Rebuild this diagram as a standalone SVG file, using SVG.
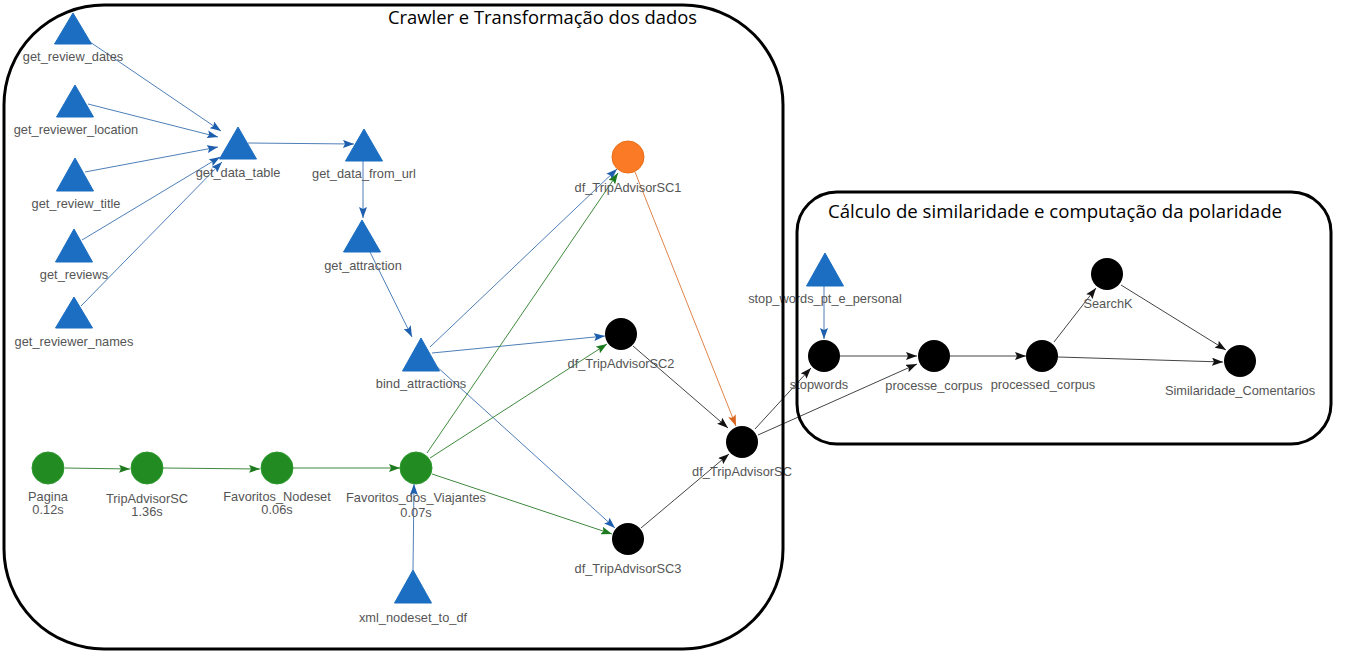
<svg xmlns="http://www.w3.org/2000/svg" width="1355" height="666" viewBox="0 0 1355 666">
<style>
.lbl{font-family:"Liberation Sans",Arial,sans-serif;font-size:12.8px;fill:#555;text-anchor:middle}
.ttl{font-family:"Open Sans","Liberation Sans",Arial,sans-serif;font-size:18px;fill:#000}
.tri{fill:#1b6ec2;stroke:#1b6ec2;stroke-width:1}
.grn{fill:#228b22;stroke:#2c9a2c;stroke-width:1}
.blk{fill:#000}
.org{fill:#fb7a25;stroke:#e86c14;stroke-width:1}
.eb{stroke:#4f7fb8;stroke-width:1;fill:none;marker-end:url(#ab)}
.eg{stroke:#3f8a3f;stroke-width:1;fill:none;marker-end:url(#ag)}
.ek{stroke:#444;stroke-width:1;fill:none;marker-end:url(#ak)}
.eo{stroke:#e0844c;stroke-width:1;fill:none;marker-end:url(#ao)}
.box{fill:none;stroke:#000;stroke-width:3}
</style>
<defs>
<marker id="ab" markerUnits="userSpaceOnUse" markerWidth="11" markerHeight="8" refX="11" refY="4" orient="auto"><path d="M0,0 L11,4 L0,8 L2,4 z" fill="#1d5fae"/></marker>
<marker id="ag" markerUnits="userSpaceOnUse" markerWidth="11" markerHeight="8" refX="11" refY="4" orient="auto"><path d="M0,0 L11,4 L0,8 L2,4 z" fill="#1e7a1e"/></marker>
<marker id="ak" markerUnits="userSpaceOnUse" markerWidth="11" markerHeight="8" refX="11" refY="4" orient="auto"><path d="M0,0 L11,4 L0,8 L2,4 z" fill="#111"/></marker>
<marker id="ao" markerUnits="userSpaceOnUse" markerWidth="11" markerHeight="8" refX="11" refY="4" orient="auto"><path d="M0,0 L11,4 L0,8 L2,4 z" fill="#d9651f"/></marker>
</defs>
<rect width="1355" height="666" fill="#fff"/>
<g id="connectors">
<line class="eb" x1="90" y1="42" x2="221" y2="131"/>
<line class="eb" x1="88" y1="104" x2="218" y2="137"/>
<line class="eb" x1="85" y1="172" x2="218" y2="147"/>
<line class="eb" x1="82" y1="240" x2="220" y2="157"/>
<line class="eb" x1="81" y1="306" x2="222" y2="162"/>
<line class="eb" x1="248" y1="143" x2="354" y2="144"/>
<line class="eb" x1="363" y1="160" x2="363" y2="218"/>
<line class="eb" x1="370" y1="252" x2="412" y2="337"/>
<line class="eb" x1="430" y1="347" x2="617" y2="169"/>
<line class="eb" x1="432" y1="353" x2="605" y2="336"/>
<line class="eb" x1="435" y1="365" x2="615" y2="528"/>
<line class="eb" x1="413" y1="570" x2="414" y2="484"/>
<line class="eb" x1="824" y1="286" x2="824" y2="339"/>
<line class="eg" x1="65" y1="468" x2="130" y2="469"/>
<line class="eg" x1="163" y1="468" x2="260" y2="469"/>
<line class="eg" x1="293" y1="468" x2="400" y2="468"/>
<line class="eg" x1="427" y1="453" x2="618" y2="173"/>
<line class="eg" x1="430" y1="458" x2="607" y2="344"/>
<line class="eg" x1="432" y1="474" x2="612" y2="534"/>
<line class="eo" x1="635" y1="172" x2="736" y2="426"/>
<line class="ek" x1="633" y1="346" x2="728" y2="428"/>
<line class="ek" x1="641" y1="528" x2="729" y2="454"/>
<line class="ek" x1="755" y1="429" x2="811" y2="368"/>
<line class="ek" x1="758" y1="435" x2="917" y2="364"/>
<line class="ek" x1="840" y1="356" x2="917" y2="356"/>
<line class="ek" x1="950" y1="356" x2="1026" y2="356"/>
<line class="ek" x1="1054" y1="342" x2="1096" y2="288"/>
<line class="ek" x1="1058" y1="357" x2="1223" y2="362"/>
<line class="ek" x1="1121" y1="285" x2="1226" y2="350"/>
</g>
<g id="get_review_dates"><polygon class="tri" points="54.5,44 73,13 91.5,44"/><text class="lbl" x="73" y="61">get_review_dates</text></g>
<g id="get_reviewer_location"><polygon class="tri" points="56.5,117 75,85 93.5,117"/><text class="lbl" x="76" y="134">get_reviewer_location</text></g>
<g id="get_review_title"><polygon class="tri" points="56.5,191 75,158 93.5,191"/><text class="lbl" x="76" y="208">get_review_title</text></g>
<g id="get_reviews"><polygon class="tri" points="55.5,262 74,229 92.5,262"/><text class="lbl" x="74" y="279">get_reviews</text></g>
<g id="get_reviewer_names"><polygon class="tri" points="55.5,328 74,297 92.5,328"/><text class="lbl" x="74" y="346">get_reviewer_names</text></g>
<g id="get_data_table"><polygon class="tri" points="219.5,159 238,127 256.5,159"/><text class="lbl" x="238" y="177">get_data_table</text></g>
<g id="get_data_from_url"><polygon class="tri" points="345.5,161 364,129 382.5,161"/><text class="lbl" x="364" y="178">get_data_from_url</text></g>
<g id="get_attraction"><polygon class="tri" points="343.5,252 362,220 380.5,252"/><text class="lbl" x="363" y="270">get_attraction</text></g>
<g id="bind_attractions"><polygon class="tri" points="402.5,371 421,338 439.5,371"/><text class="lbl" x="421" y="388">bind_attractions</text></g>
<g id="xml_nodeset_to_df"><polygon class="tri" points="394.5,603 413,570 431.5,603"/><text class="lbl" x="413" y="622">xml_nodeset_to_df</text></g>
<g id="stop_words_pt_e_personal"><polygon class="tri" points="806.5,286 825,253 843.5,286"/><text class="lbl" x="825" y="303">stop_words_pt_e_personal</text></g>
<g id="Pagina"><circle class="grn" cx="48" cy="468" r="16"/><text class="lbl" x="48" y="501">Pagina</text><text class="lbl" x="48" y="514">0.12s</text></g>
<g id="TripAdvisorSC"><circle class="grn" cx="147" cy="468" r="16"/><text class="lbl" x="147" y="503">TripAdvisorSC</text><text class="lbl" x="147" y="516">1.36s</text></g>
<g id="Favoritos_Nodeset"><circle class="grn" cx="277" cy="468" r="16"/><text class="lbl" x="277" y="501">Favoritos_Nodeset</text><text class="lbl" x="277" y="514">0.06s</text></g>
<g id="Favoritos_dos_Viajantes"><circle class="grn" cx="416" cy="468" r="16"/><text class="lbl" x="416" y="502">Favoritos_dos_Viajantes</text><text class="lbl" x="416" y="517">0.07s</text></g>
<g id="df_TripAdvisorSC1"><circle class="org" cx="628" cy="157" r="16"/><text class="lbl" x="628" y="192">df_TripAdvisorSC1</text></g>
<g id="df_TripAdvisorSC2"><circle class="blk" cx="621" cy="334" r="16"/><text class="lbl" x="621" y="368">df_TripAdvisorSC2</text></g>
<g id="df_TripAdvisorSC3"><circle class="blk" cx="628" cy="539" r="16"/><text class="lbl" x="628" y="573">df_TripAdvisorSC3</text></g>
<g id="df_TripAdvisorSC"><circle class="blk" cx="742" cy="442" r="16"/><text class="lbl" x="742" y="476">df_TripAdvisorSC</text></g>
<g id="stopwords"><circle class="blk" cx="824" cy="356" r="16"/><text class="lbl" x="819" y="389">stopwords</text></g>
<g id="processe_corpus"><circle class="blk" cx="934" cy="356" r="16"/><text class="lbl" x="934" y="390">processe_corpus</text></g>
<g id="processed_corpus"><circle class="blk" cx="1042" cy="356" r="16"/><text class="lbl" x="1043" y="389">processed_corpus</text></g>
<g id="SearchK"><circle class="blk" cx="1107" cy="274" r="16"/><text class="lbl" x="1108" y="308">SearchK</text></g>
<g id="Similaridade_Comentarios"><circle class="blk" cx="1240" cy="361" r="16"/><text class="lbl" x="1240" y="395">Similaridade_Comentarios</text></g>
<g id="boxes">
<rect class="box" x="4" y="5" width="779" height="644" rx="100" ry="100"/>
<rect class="box" x="797" y="192" width="534" height="252" rx="40" ry="40"/>
<text class="ttl" x="388" y="24" textLength="309" lengthAdjust="spacingAndGlyphs">Crawler e Transformação dos dados</text>
<text class="ttl" x="828" y="218" textLength="454" lengthAdjust="spacingAndGlyphs">Cálculo de similaridade e computação da polaridade</text>
</g>
</svg>
